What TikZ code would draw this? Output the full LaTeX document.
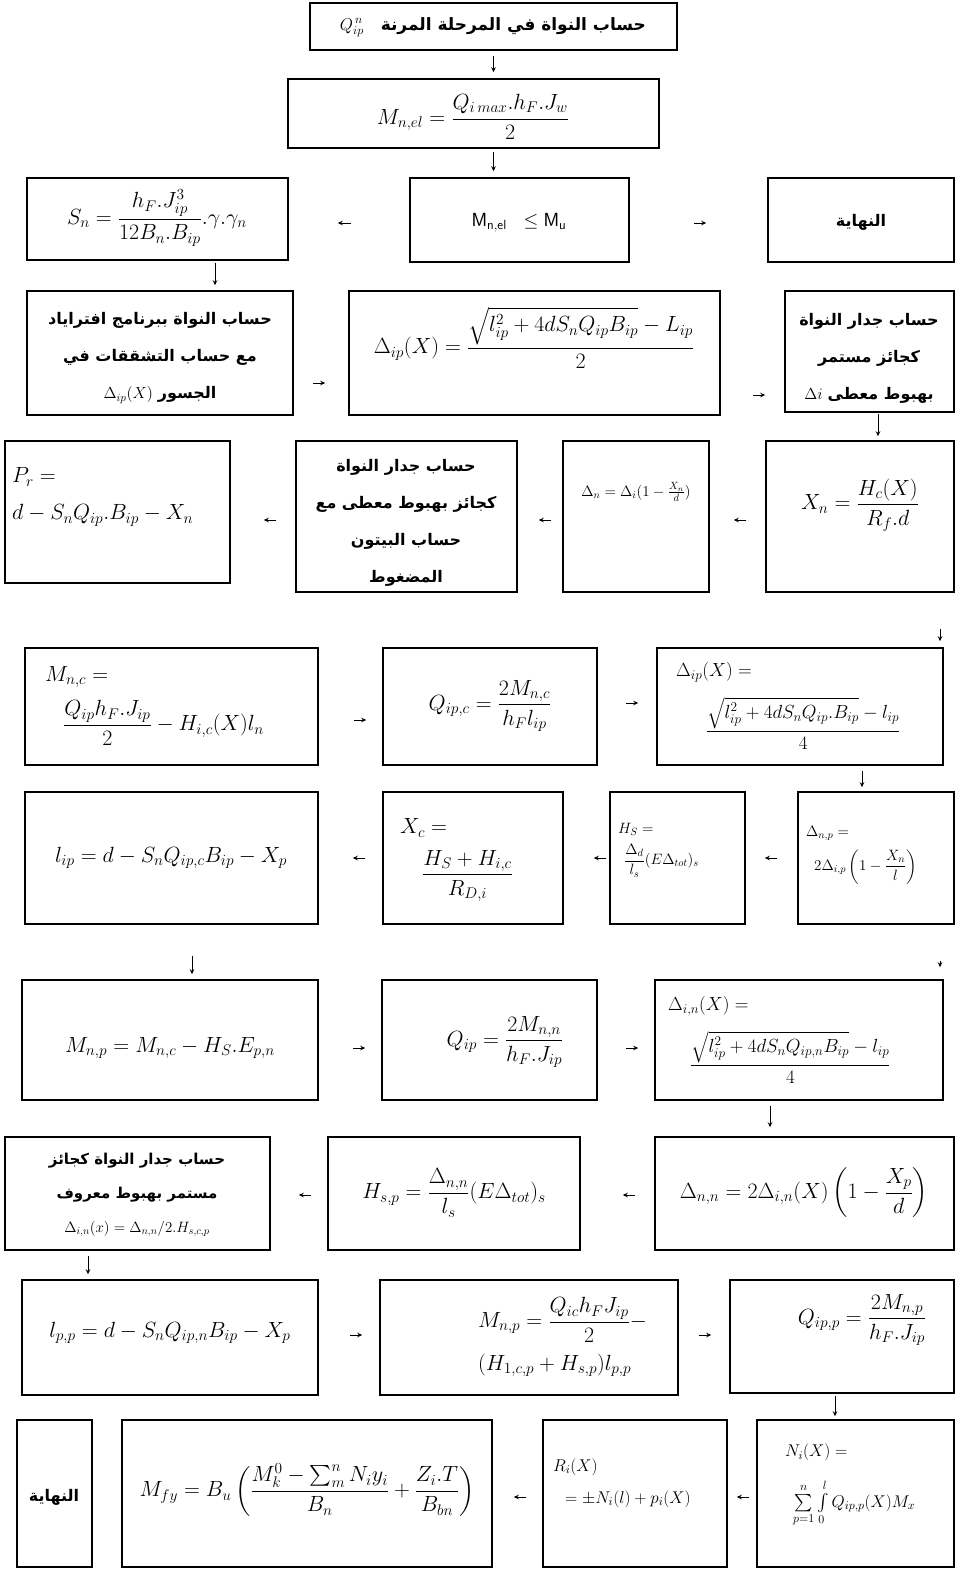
\RequirePackage{fix-cm}
\documentclass[tikz,border=0pt]{standalone}
\usepackage{amsmath}
\usepackage{fontspec}
\newfontfamily\arabicfont[Script=Arabic]{DejaVu Sans}
\TeXXeTstate=1
\usetikzlibrary{arrows.meta}
\newcommand{\ar}[1]{{\arabicfont\bfseries\beginR #1\endR}}
\begin{document}
\begin{tikzpicture}[x=1pt,y=-1pt,
 box/.style={draw,line width=1.5pt,inner sep=0pt},
 arr/.style={-{Stealth[length=5pt,width=4.5pt]},line width=1pt},
 mth/.style={font=\fontsize{22}{27}\selectfont,align=left,inner sep=0pt},
 mthm/.style={font=\fontsize{19}{24}\selectfont,align=left,inner sep=0pt},
 sml/.style={font=\fontsize{15}{20}\selectfont,align=left,inner sep=0pt},
 art/.style={font=\fontsize{16}{37}\selectfont,align=center,inner sep=0pt}]
\useasboundingbox[fill=white] (0,0) rectangle (956,1569);

% ---------- boxes ----------
\node[box,minimum width=367pt,minimum height=47pt] (top) at (493.5,26.5) {};
\node[box,minimum width=371pt,minimum height=69pt] (m1) at (473.5,113.5) {};
\node[box,minimum width=261pt,minimum height=82pt] (s1) at (157.5,219) {};
\node[box,minimum width=219pt,minimum height=84pt] (cond) at (519.5,220) {};
\node[box,minimum width=186pt,minimum height=84pt] (end1) at (861,220) {};
\node[box,minimum width=266pt,minimum height=124pt] (cr) at (160,353) {};
\node[box,minimum width=371pt,minimum height=124pt] (dip) at (534.5,353) {};
\node[box,minimum width=169pt,minimum height=121pt] (wall1) at (869.5,351.5) {};
\node[box,minimum width=225pt,minimum height=142pt] (pr) at (117.5,512) {};
\node[box,minimum width=221pt,minimum height=151pt] (wall2) at (406.5,516.5) {};
\node[box,minimum width=146pt,minimum height=151pt] (dn) at (636,516.5) {};
\node[box,minimum width=188pt,minimum height=151pt] (xn) at (860,516.5) {};
\node[box,minimum width=293pt,minimum height=117pt] (mnc) at (171.5,706.5) {};
\node[box,minimum width=214pt,minimum height=117pt] (qipc) at (490,706.5) {};
\node[box,minimum width=286pt,minimum height=117pt] (dip2) at (800,706.5) {};
\node[box,minimum width=293pt,minimum height=132pt] (lip) at (171.5,858) {};
\node[box,minimum width=180pt,minimum height=132pt] (xc) at (473,858) {};
\node[box,minimum width=135pt,minimum height=132pt] (hs) at (677.5,858) {};
\node[box,minimum width=156pt,minimum height=132pt] (dnp) at (876,858) {};
\node[box,minimum width=296pt,minimum height=120pt] (mnp) at (170,1040) {};
\node[box,minimum width=215pt,minimum height=120pt] (qip) at (489.5,1040) {};
\node[box,minimum width=288pt,minimum height=120pt] (din) at (799,1040) {};
\node[box,minimum width=265pt,minimum height=113pt] (wall3) at (137.5,1193.5) {};
\node[box,minimum width=252pt,minimum height=113pt] (hsp) at (454,1193.5) {};
\node[box,minimum width=299pt,minimum height=113pt] (dnn) at (804.5,1193.5) {};
\node[box,minimum width=296pt,minimum height=115pt] (lpp) at (170,1337.5) {};
\node[box,minimum width=298pt,minimum height=115pt] (mnp2) at (529,1337.5) {};
\node[box,minimum width=224pt,minimum height=113pt] (qipp) at (842,1336.5) {};
\node[box,minimum width=75pt,minimum height=147pt] (end2) at (54.5,1493.5) {};
\node[box,minimum width=370pt,minimum height=147pt] (mfy) at (307,1493.5) {};
\node[box,minimum width=184pt,minimum height=147pt] (ri) at (635,1493.5) {};
\node[box,minimum width=197pt,minimum height=147pt] (ni) at (855.5,1493.5) {};

% ---------- texts ----------
\node[art,font=\fontsize{17}{24}\selectfont] (top-t) at (493,27) {$Q^{\,n}_{ip}$\quad\ar{حساب النواة في المرحلة المرنة}};
\node[mth] (m1-t) at (473,117) {$M_{n,el}=\dfrac{Q_{i\,max}.h_F.J_w}{2}$};
\node[mth] (s1-t) at (157,218) {$S_n=\dfrac{h_F.J_{ip}^3}{12B_n.B_{ip}}.\gamma.\gamma_n$};
\node[mth,font=\fontsize{19}{24}\selectfont] (cond-t) at (519,223) {$\mathsf{M}_{\mathsf{n,el}}\ \ \le\mathsf{M}_{\mathsf{u}}$};
\node[art] (end1-t) at (861,222) {\ar{النهاية}};
\node[art] (cr-t) at (160,358) {\ar{حساب النواة ببرنامج افتراياد}\\\ar{مع حساب التشققات في}\\$\Delta_{ip}(X)$ \ar{الجسور}};
\node[mth] (dip-t) at (534,338) {$\Delta_{ip}(X)=\dfrac{\sqrt{l_{ip}^2+4dS_nQ_{ip}B_{ip}}-L_{ip}}{2}$};
\node[art] (wall1-t) at (869,358) {\ar{حساب جدار النواة}\\\ar{كجائز مستمر}\\$\Delta i$ \ar{بهبوط معطى}};
\node[mth,anchor=west] (pr-t) at (12,497) {$P_r=$\\[10pt]$d-S_nQ_{ip}.B_{ip}-X_n$};
\node[art] (wall2-t) at (406,523) {\ar{حساب جدار النواة}\\\ar{كجائز بهبوط معطى مع}\\\ar{حساب البيتون}\\\ar{المضغوط}};
\node[sml] (dn-t) at (636,492) {$\Delta_n=\Delta_i(1-\frac{X_n}{d})$};
\node[mth] (xn-t) at (860,505) {$X_n=\dfrac{H_c(X)}{R_f.d}$};
\node[mth,anchor=west] (mnc-t) at (45,706) {$M_{n,c}=$\\[12pt]\hspace*{18pt}$\dfrac{Q_{ip}h_F.J_{ip}}{2}-H_{i,c}(X)l_n$};
\node[mth] (qipc-t) at (490,706) {$Q_{ip,c}=\dfrac{2M_{n,c}}{h_Fl_{ip}}$};
\node[mthm,anchor=west] (dip2-t) at (676,706) {$\Delta_{ip}(X)=$\\[14pt]\hspace*{30pt}$\dfrac{\sqrt{l_{ip}^2+4dS_nQ_{ip}.B_{ip}}-l_{ip}}{4}$};
\node[mth] (lip-t) at (171,858) {$l_{ip}=d-S_nQ_{ip,c}B_{ip}-X_p$};
\node[mth,anchor=west] (xc-t) at (400,860) {$X_c=$\\[12pt]\hspace*{22pt}$\dfrac{H_S+H_{i,c}}{R_{D,i}}$};
\node[sml,anchor=west] (hs-t) at (618,850) {$H_S=$\\[8pt]\hspace*{6pt}$\dfrac{\Delta_d}{l_s}(E\Delta_{tot})_s$};
\node[sml,anchor=west] (dnp-t) at (806,855) {$\Delta_{n,p}=$\\[8pt]\hspace*{8pt}$2\Delta_{i,p}\left(1-\dfrac{X_n}{l}\right)$};
\node[mth] (mnp-t) at (170,1048) {$M_{n,p}=M_{n,c}-H_S.E_{p,n}$};
\node[mth] (qip-t) at (505,1042) {$Q_{ip}=\dfrac{2M_{n,n}}{h_F.J_{ip}}$};
\node[mthm,anchor=west] (din-t) at (668,1040) {$\Delta_{i,n}(X)=$\\[14pt]\hspace*{22pt}$\dfrac{\sqrt{l_{ip}^2+4dS_nQ_{ip,n}B_{ip}}-l_{ip}}{4}$};
\node[art,font=\fontsize{15}{34}\selectfont] (wall3-t) at (137,1195) {\ar{حساب جدار النواة كجائز}\\\ar{مستمر بهبوط معروف}\\$\Delta_{i,n}(x)=\Delta_{n,n}/2.H_{s,c,p}$};
\node[mth] (hsp-t) at (454,1193) {$H_{s,p}=\dfrac{\Delta_{n,n}}{l_s}(E\Delta_{tot})_s$};
\node[mth] (dnn-t) at (804,1193) {$\Delta_{n,n}=2\Delta_{i,n}(X)\left(1-\dfrac{X_p}{d}\right)$};
\node[mth] (lpp-t) at (170,1333) {$l_{p,p}=d-S_nQ_{ip,n}B_{ip}-X_p$};
\node[mth,anchor=west] (mnp2-t) at (478,1337) {$M_{n,p}=\dfrac{Q_{ic}h_FJ_{ip}}{2}-$\\[10pt]$(H_{1,c,p}+H_{s,p})l_{p,p}$};
\node[mth] (qipp-t) at (862,1320) {$Q_{ip,p}=\dfrac{2M_{n,p}}{h_F.J_{ip}}$};
\node[art] (end2-t) at (54,1497) {\ar{النهاية}};
\node[mth] (mfy-t) at (307,1490) {$M_{fy}=B_u\left(\dfrac{M_k^0-\sum_{m}^{n}N_iy_i}{B_n}+\dfrac{Z_i.T}{B_{bn}}\right)$};
\node[mth,font=\fontsize{17}{22}\selectfont,anchor=west] (ri-t) at (553,1483) {$R_i(X)$\\[10pt]\hspace*{12pt}$=\pm N_i(l)+p_i(X)$};
\node[mth,font=\fontsize{17}{22}\selectfont,anchor=west] (ni-t) at (785,1485) {$N_i(X)=$\\[18pt]\hspace*{8pt}$\sum\limits_{p=1}^{n}\int\limits_0^{l}Q_{ip,p}(X)M_x$};

% ---------- connectors ----------
\draw[arr,shorten <=5pt,shorten >=6pt] (top.south) -- (top.south |- m1.north);
\draw[arr,shorten <=3pt,shorten >=6pt] (m1.south -| top.south) -- (cond.north -| top.south);
\draw[arr,shorten <=58pt,shorten >=49pt] ([yshift=-3pt]cond.west) -- ([yshift=-3pt]cond.west -| s1.east);
\draw[arr,shorten <=64pt,shorten >=61pt] ([yshift=-3pt]cond.east) -- ([yshift=-3pt]cond.east -| end1.west);
\draw[arr,shorten <=2pt,shorten >=5pt] ([xshift=57.5pt]s1.south) -- ([xshift=57.5pt]s1.south |- cr.north);
\draw[arr,shorten <=19pt,shorten >=23pt] ([yshift=-30pt]cr.east) -- ([yshift=-30pt]cr.east -| dip.west);
\draw[arr,shorten <=32pt,shorten >=19pt] ([yshift=-42pt]dip.east) -- ([yshift=-42pt]dip.east -| wall1.west);
\draw[arr,shorten <=1pt,shorten >=4pt] ([xshift=8.5pt]wall1.south) -- ([xshift=8.5pt]wall1.south |- xn.north);
\draw[arr,shorten <=19pt,shorten >=24pt] ([yshift=-3.5pt]xn.west) -- ([yshift=-3.5pt]xn.west -| dn.east);
\draw[arr,shorten <=11pt,shorten >=21pt] ([yshift=-3.5pt]dn.west) -- ([yshift=-3.5pt]dn.west -| wall2.east);
\draw[arr,shorten <=19pt,shorten >=33pt] ([yshift=-3.5pt]wall2.west) -- ([yshift=-3.5pt]wall2.west -| pr.east);
\draw[arr,shorten <=36pt,shorten >=6pt] ([xshift=80pt]xn.south) -- ([xshift=80pt]xn.south |- dip2.north);
\draw[arr,shorten <=35pt,shorten >=16pt] ([yshift=-13.5pt]mnc.east) -- ([yshift=-13.5pt]mnc.east -| qipc.west);
\draw[arr,shorten <=28pt,shorten >=18pt] ([yshift=3.5pt]qipc.east) -- ([yshift=3.5pt]qipc.east -| dip2.west);
\draw[arr,shorten <=5pt,shorten >=4pt] ([xshift=62pt]dip2.south) -- ([xshift=62pt]dip2.south |- dnp.north);
\draw[arr,shorten <=20pt,shorten >=19pt] (dnp.west) -- (dnp.west -| hs.east);
\draw[arr,shorten <=3pt,shorten >=30pt] (hs.west) -- (hs.west -| xc.east);
\draw[arr,shorten <=17pt,shorten >=34pt] (xc.west) -- (xc.west -| lip.east);
\draw[arr,shorten <=31pt,shorten >=5pt] ([xshift=20.5pt]lip.south) -- ([xshift=20.5pt]lip.south |- mnp.north);
\draw[arr,shorten <=36pt,shorten >=12pt] ([xshift=64pt]dnp.south) -- ([xshift=64pt]dnp.south |- din.north);
\draw[arr,shorten <=34pt,shorten >=16pt] ([yshift=-8pt]mnp.east) -- ([yshift=-8pt]mnp.east -| qip.west);
\draw[arr,shorten <=28pt,shorten >=16pt] ([yshift=-8pt]qip.east) -- ([yshift=-8pt]qip.east -| din.west);
\draw[arr,shorten <=5pt,shorten >=9pt] ([xshift=-29pt]din.south) -- ([xshift=-29pt]din.south |- dnn.north);
\draw[arr,shorten <=19pt,shorten >=42pt] ([yshift=-1.5pt]dnn.west) -- ([yshift=-1.5pt]dnn.west -| hsp.east);
\draw[arr,shorten <=16pt,shorten >=28pt] ([yshift=-1.5pt]hsp.west) -- ([yshift=-1.5pt]hsp.west -| wall3.east);
\draw[arr,shorten <=5pt,shorten >=5pt] ([xshift=-49.5pt]wall3.south) -- ([xshift=-49.5pt]wall3.south |- lpp.north);
\draw[arr,shorten <=31pt,shorten >=17pt] ([yshift=2.5pt]lpp.east) -- ([yshift=2.5pt]lpp.east -| mnp2.west);
\draw[arr,shorten <=20pt,shorten >=18pt] ([yshift=2.5pt]mnp2.east) -- ([yshift=2.5pt]mnp2.east -| qipp.west);
\draw[arr,shorten <=2pt,shorten >=3pt] ([xshift=-7pt]qipp.south) -- ([xshift=-7pt]qipp.south |- ni.north);
\draw[arr,shorten <=7pt,shorten >=9pt] ([yshift=-3.5pt]ni.west) -- ([yshift=-3.5pt]ni.west -| ri.east);
\draw[arr,shorten <=16pt,shorten >=21pt] ([yshift=-3.5pt]ri.west) -- ([yshift=-3.5pt]ri.west -| mfy.east);
\end{tikzpicture}
\end{document}
